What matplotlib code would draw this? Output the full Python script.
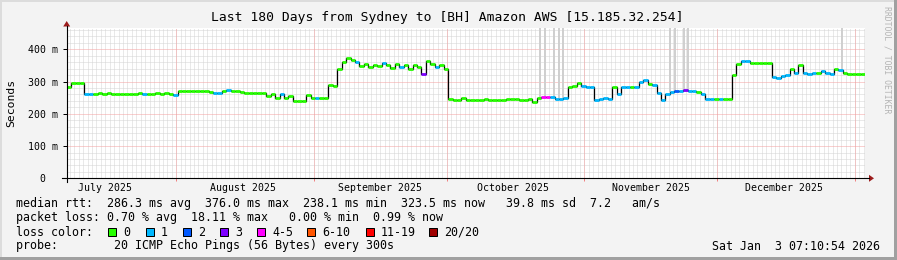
import numpy as np
import matplotlib.pyplot as plt
from matplotlib.patches import Rectangle, Polygon

W, H = 897, 260

title = "Last 180 Days from Sydney to [BH] Amazon AWS [15.185.32.254]"
start = np.datetime64("2025-07-07T07:10:54")
n_days = 180

month_starts = ["2025-08-01", "2025-09-01", "2025-10-01",
                "2025-11-01", "2025-12-01", "2026-01-01"]
label_dates = ["2025-07-16", "2025-08-16", "2025-09-16",
               "2025-10-16", "2025-11-16", "2025-12-16"]
month_labels = ["July 2025", "August 2025", "September 2025",
                "October 2025", "November 2025", "December 2025"]

y_ticks = [0, 100, 200, 300, 400]
y_tick_labels = ["0  ", "100 m", "200 m", "300 m", "400 m"]

# median rtt (ms), one value per day
median_ms = [
    282, 296, 297, 297, 262, 261, 262, 263, 261, 266,
    262, 262, 261, 262, 262, 262, 263, 262, 262, 262,
    263, 262, 263, 261, 258, 270, 271, 272, 270, 270,
    271, 270, 268, 263, 264, 270, 273, 272, 271, 267,
    266, 266, 265, 266, 265, 255, 262, 248, 262, 250,
    255, 240, 239, 240, 257, 250, 249, 249, 250, 288,
    285, 340, 360, 372, 366, 362, 348, 355, 345, 352,
    348, 356, 350, 342, 353, 345, 350, 340, 352, 344,
    322, 365, 355, 345, 352, 340, 247, 242, 243, 248,
    242, 242, 242, 243, 246, 242, 243, 242, 243, 246,
    245, 246, 243, 243, 245, 238, 250, 253, 253, 252,
    247, 247, 248, 284, 287, 295, 285, 284, 283, 242,
    247, 249, 247, 283, 262, 283, 284, 283, 284, 300,
    305, 291, 290, 265, 243, 262, 268, 272, 272, 273,
    272, 272, 268, 262, 247, 247, 247, 247, 247, 247,
    319, 355, 364, 363, 358, 358, 358, 358, 357, 315,
    310, 318, 320, 340, 328, 350, 326, 324, 325, 326,
    333, 325, 324, 338, 335, 325, 324, 324, 324, 324,
]

# loss class index per day (0 -> "0", 1 -> "1", 2 -> "2", 3 -> "3", 4 -> "4-5")
loss_cls = [
    0, 0, 0, 0, 1, 1, 0, 0, 0, 0,
    0, 0, 0, 0, 0, 0, 0, 1, 0, 0,
    0, 0, 0, 0, 1, 0, 0, 0, 0, 0,
    0, 0, 0, 1, 1, 0, 1, 0, 0, 0,
    0, 0, 0, 0, 0, 0, 0, 0, 1, 0,
    0, 0, 0, 0, 0, 0, 1, 0, 0, 0,
    0, 0, 0, 0, 0, 1, 0, 0, 0, 0,
    0, 1, 0, 0, 0, 1, 0, 0, 0, 0,
    3, 0, 0, 1, 0, 0, 0, 0, 0, 0,
    0, 0, 0, 0, 0, 0, 0, 0, 0, 0,
    0, 0, 0, 0, 0, 0, 0, 4, 4, 1,
    1, 1, 1, 0, 0, 0, 1, 1, 1, 1,
    1, 1, 1, 0, 1, 1, 1, 0, 1, 1,
    1, 0, 1, 1, 1, 1, 1, 2, 1, 3,
    1, 1, 0, 1, 1, 1, 0, 1, 0, 0,
    0, 0, 1, 1, 0, 0, 0, 0, 0, 1,
    1, 1, 1, 0, 1, 0, 1, 1, 1, 0,
    1, 1, 1, 0, 1, 0, 0, 0, 0, 0,
]

# days where a few pings went off the top of the graph (grey smoke)
smoke_days = [106.8, 107.8, 109.9, 110.9, 111.9,
              136.0, 137.2, 139.2, 140.0, 174.8]

loss_names = ["0", "1", "2", "3", "4-5", "6-10", "11-19", "20/20"]
loss_colors = ["#26ff00", "#00b8ff", "#0059ff", "#7e00ff",
               "#ff00ff", "#ff5500", "#ff0000", "#a00000"]

legend_rtt = ("median rtt:  286.3 ms avg  376.0 ms max  238.1 ms min  "
              "323.5 ms now   39.8 ms sd  7.2   am/s")
legend_loss = "packet loss: 0.70 % avg  18.11 % max   0.00 % min  0.99 % now"
legend_probe = "probe:        20 ICMP Echo Pings (56 Bytes) every 300s"
stamp = "Sat Jan  3 07:10:54 2026"

MONO = "DejaVu Sans Mono"


def day_offset(date_str):
    return (np.datetime64(date_str) - start) / np.timedelta64(1, "D")


def main() -> None:
    fig = plt.figure(figsize=(W / 100, H / 100), dpi=100, facecolor="#f3f3f3")

    # plot area in pixels
    x0, x1, ytop, ybot = 66.7, 865.0, 28.0, 178.3
    ax = fig.add_axes([x0 / W, 1 - ybot / H, (x1 - x0) / W, (ybot - ytop) / H])
    ymax = (ybot - ytop) / 0.3225
    ax.set_xlim(0, n_days)
    ax.set_ylim(0, ymax)
    ax.set_facecolor("white")
    for s in ax.spines.values():
        s.set_visible(False)

    # grid
    first_midnight = day_offset("2025-07-08")
    daily = np.arange(first_midnight, n_days, 1.0)
    months = [day_offset(m) for m in month_starts]
    dot = (0, (1, 1))
    for d in daily:
        ax.axvline(d, color="#d4d4d4", lw=0.72, ls=dot, zorder=0)
    for v in np.arange(20, ymax, 20):
        if v % 100:
            ax.axhline(v, color="#d4d4d4", lw=0.72, ls=dot, zorder=0)
    for v in y_ticks[1:]:
        ax.axhline(v, color="#f4a0a0", lw=0.72, ls=dot, zorder=1)
    for m in months:
        ax.axvline(m, color="#f4a0a0", lw=0.72, ls=dot, zorder=1)

    days = np.arange(n_days)
    med = np.array(median_ms, dtype=float)

    # smoke spikes
    for sd in smoke_days:
        ax.vlines(sd, med[int(sd)], ymax, color="#cfcfcf", lw=1.4, zorder=2)

    # median line: black steps with loss-coloured segments
    ax.stairs(med, np.arange(n_days + 1), baseline=None,
              color="black", lw=0.9, zorder=3)
    ax.hlines(med, days, days + 1,
              colors=[loss_colors[c] for c in loss_cls],
              lw=2.0, zorder=4, capstyle="butt")

    # ticks
    ax.set_yticks(y_ticks)
    ax.set_yticklabels(y_tick_labels, fontfamily=MONO, fontsize=7.1)
    ax.tick_params(axis="y", length=3, width=0.72, pad=3, color="black")
    ax.set_xticks(months)
    ax.set_xticklabels([])
    ax.tick_params(axis="x", length=2.5, width=0.72, color="#f08080")
    for lab, ld in zip(month_labels, label_dates):
        ax.text(day_offset(ld), -0.065, lab, transform=ax.get_xaxis_transform(),
                ha="center", va="center", fontfamily=MONO, fontsize=7.1)

    # overlay in pixel coordinates
    ov = fig.add_axes([0, 0, 1, 1], zorder=5)
    ov.set_xlim(0, W)
    ov.set_ylim(H, 0)
    ov.axis("off")
    ov.patch.set_alpha(0)

    # 3d frame
    ov.add_patch(Rectangle((0, 0), W, 2, color="#dcdcdc", lw=0))
    ov.add_patch(Rectangle((0, 0), 2, H, color="#dcdcdc", lw=0))
    ov.add_patch(Rectangle((W - 3, 0), 3, H, color="#a0a0a0", lw=0))
    ov.add_patch(Rectangle((0, H - 3), W, 3, color="#a0a0a0", lw=0))

    # axes with arrows
    ov.plot([62, 869], [ybot, ybot], color="black", lw=0.8)
    ov.plot([x0, x0], [182, 26], color="black", lw=0.8)
    arrow_c = "#9c1c1c"
    ov.add_patch(Polygon([[869, ybot - 3.5], [874, ybot], [869, ybot + 3.5]],
                         closed=True, color=arrow_c, lw=0))
    ov.add_patch(Polygon([[x0 - 3.5, 26.5], [x0, 21], [x0 + 3.5, 26.5]],
                         closed=True, color=arrow_c, lw=0))

    # texts
    ov.text(447, 18, title, ha="center", va="center",
            fontfamily=MONO, fontsize=9.4)
    ov.text(11, (ytop + ybot) / 2, "Seconds", rotation=90, ha="center",
            va="center", fontfamily=MONO, fontsize=8.2)
    ov.text(887, 60, "RRDTOOL / TOBI OETIKER", rotation=270, ha="center",
            va="center", fontfamily=MONO, fontsize=5.9, color="#b4b4b4")

    fs = 8.4
    ov.text(16, 204, legend_rtt, ha="left", va="center", fontfamily=MONO, fontsize=fs)
    ov.text(16, 218, legend_loss, ha="left", va="center", fontfamily=MONO, fontsize=fs)
    ov.text(16, 232, "loss color:", ha="left", va="center", fontfamily=MONO, fontsize=fs)
    ov.text(16, 246, legend_probe, ha="left", va="center", fontfamily=MONO, fontsize=fs)
    ov.text(880, 246, stamp, ha="right", va="center", fontfamily=MONO, fontsize=fs)

    box_x = [108, 145.5, 183, 220, 257, 307, 366, 429]
    for bx, name, col in zip(box_x, loss_names, loss_colors):
        ov.add_patch(Rectangle((bx, 227.5), 8, 8, facecolor=col,
                               edgecolor="black", lw=0.72))
        ov.text(bx + 15, 232, name, ha="left", va="center",
                fontfamily=MONO, fontsize=fs)

    fig.savefig("out.png", dpi=100, facecolor=fig.get_facecolor())


if __name__ == "__main__":
    main()
